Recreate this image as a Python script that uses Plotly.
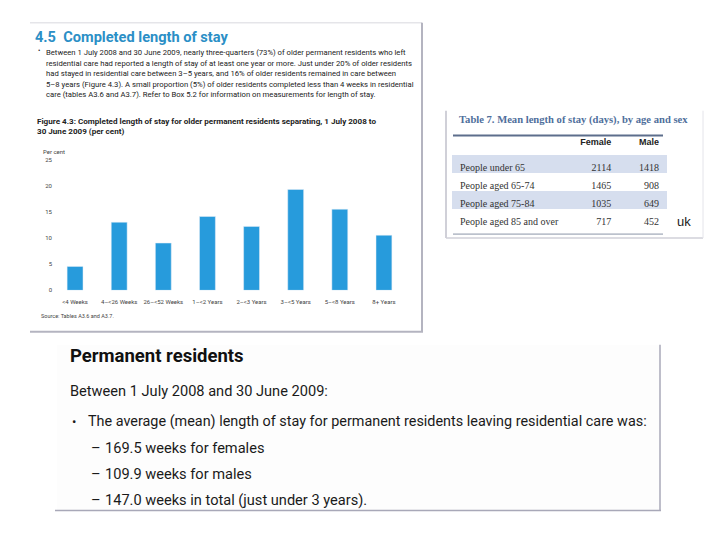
import plotly.graph_objects as go

# ---------------- data ----------------
categories = ["<4 Weeks", "4–<26 Weeks", "26–<52 Weeks", "1–<2 Years",
              "2–<3 Years", "3–<5 Years", "5–<8 Years", "8+ Years"]
percent = [4.6, 13.1, 9.1, 14.2, 12.3, 19.4, 15.6, 10.6]
y_ticks = [0, 5, 10, 15, 20, 25]

table_header = [" ", "Female", "Male"]
table_rows = ["People under 65", "People aged 65-74", "People aged 75-84", "People aged 85 and over"]
female_days = [2114, 1465, 1035, 717]
male_days = [1418, 908, 649, 452]

para_lines = [
    "Between 1 July 2008 and 30 June 2009, nearly three-quarters (73%) of older permanent residents who left",
    "residential care had reported a length of stay of at least one year or more. Just under 20% of older residents",
    "had stayed in residential care between 3–5 years, and 16% of older residents remained in care between",
    "5–8 years (Figure 4.3). A small proportion (5%) of older residents completed less than 4 weeks in residential",
    "care (tables A3.6 and A3.7). Refer to Box 5.2 for information on measurements for length of stay.",
]
summary_items = ["169.5 weeks for females", "109.9 weeks for males", "147.0 weeks in total (just under 3 years)."]

W, H = 720, 540
OFF = 8  # page body margin
def X(p): return (p - OFF) / W
def Y(p): return 1 - (p - OFF) / H

SANS = "Roboto, Arial, sans-serif"
SERIF = "Liberation Serif, DejaVu Serif, serif"

fig = go.Figure()

# bar chart (panel 1)
fig.add_trace(go.Bar(x=categories, y=percent, marker_color="#279bdc", width=0.36,
                     showlegend=False, hoverinfo="x+y"))

# table (panel 2)
hdr = ["<b>%s</b>" % h if h.strip() else h for h in table_header]
row_fill = ["#d6deee", "white", "#d6deee", "white"]
fig.add_trace(go.Table(
    domain=dict(x=[X(452), X(668)], y=[Y(236), Y(127)]),
    columnwidth=[128, 40, 48],
    header=dict(values=hdr, fill_color="rgba(0,0,0,0)", line_color="rgba(0,0,0,0)",
                align=["left", "right", "right"], height=19,
                font=dict(family="Liberation Sans, Arial", size=9, color="#222")),
    cells=dict(values=[table_rows, female_days, male_days],
               fill_color=[row_fill, row_fill, row_fill], line_color="rgba(0,0,0,0)",
               align=["left", "right", "right"], height=18,
               font=dict(family=SERIF, size=10, color="#333")),
))

shapes = []
def line(x0, y0, x1, y1, color, width):
    shapes.append(dict(type="line", xref="paper", yref="paper", x0=X(x0), x1=X(x1), y0=Y(y0), y1=Y(y1),
                       line=dict(color=color, width=width)))

# panel 1 frame
line(30, 19, 422, 19, "#d8d8de", 1)
line(422, 19, 422, 332, "#b4b4c0", 2)
line(30, 332, 423, 332, "#b4b4c0", 2)
# panel 2 frame
line(446, 108, 446, 237, "#d0d0d8", 2)
line(446, 237, 703, 237, "#d0d0d8", 1.5)
line(703, 108, 703, 237, "#e4e4ea", 1)
line(453, 133, 663, 133, "#5d6e8c", 2)
line(453, 233, 663, 233, "#8a94a8", 1)
# panel 3 frame
shapes.append(dict(type="rect", xref="paper", yref="paper", x0=X(57), x1=X(660), y0=Y(513), y1=Y(345),
                   fillcolor="#fdfdfd", line=dict(width=0), layer="below"))
line(660, 345, 660, 513, "#a8a8b8", 1.5)
line(55, 513, 661, 513, "#a8a8b8", 1.5)

ann = []
def txt(x, y, s, size, color="#222", family=SANS, bold=False, xanchor="left"):
    if bold:
        s = "<b>" + s + "</b>"
    ann.append(dict(x=X(x), y=Y(y), xref="paper", yref="paper", text=s, showarrow=False,
                    xanchor=xanchor, yanchor="middle", font=dict(size=size, color=color, family=family)))

# panel 1 text
txt(33, 33, "4.5  Completed length of stay", 14.6, color="#2b8fc6", bold=True)
txt(36, 48, "•", 7)
for i, ln in enumerate(para_lines):
    txt(44, 49 + i * 10.7, ln, 7.7)
txt(35, 118, "Figure 4.3: Completed length of stay for older permanent residents separating, 1 July 2008 to", 8.1, bold=True)
txt(35, 129, "30 June 2009 (per cent)", 8.1, bold=True)
txt(41, 149, "Per cent", 6, color="#444")
txt(39, 316, "Source: Tables A3.6 and A3.7.", 5.5, color="#444")

# panel 2 text
txt(457, 117, "Table 7. Mean length of stay (days), by age and sex", 10.6, color="#4f6f9c", family=SERIF, bold=True)
txt(675, 220, "uk", 13, color="#222", family="Liberation Sans, Arial")

# panel 3 text
txt(68, 357, "Permanent residents", 18.5, color="#111", bold=True)
txt(68, 392, "Between 1 July 2008 and 30 June 2009:", 14.6, color="#1a1a1a")
txt(70, 423, "•", 13, color="#1a1a1a")
txt(86, 423, "The average (mean) length of stay for permanent residents leaving residential care was:", 14.4, color="#1a1a1a")
for i, item in enumerate(summary_items):
    yy = 450 + i * 26.3
    txt(89, yy, "–", 14.6, color="#1a1a1a")
    txt(103, yy, item, 14.6, color="#1a1a1a")

fig.update_layout(
    width=W, height=H, margin=dict(l=0, r=0, t=0, b=0),
    paper_bgcolor="white", plot_bgcolor="white",
    shapes=shapes, annotations=ann, showlegend=False,
    xaxis=dict(domain=[X(53), X(406)], showgrid=False, showline=False, ticks="",
               tickfont=dict(size=6, color="#444", family=SANS), fixedrange=True,
               ticklabelstandoff=7),
    yaxis=dict(domain=[Y(290), Y(158.3)], range=[0, 25], tickvals=y_ticks, showgrid=False,
               zeroline=False, showline=False, ticks="",
               tickfont=dict(size=6, color="#444", family=SANS), fixedrange=True),
    bargap=0.64,
)

fig.write_html("out.html")
